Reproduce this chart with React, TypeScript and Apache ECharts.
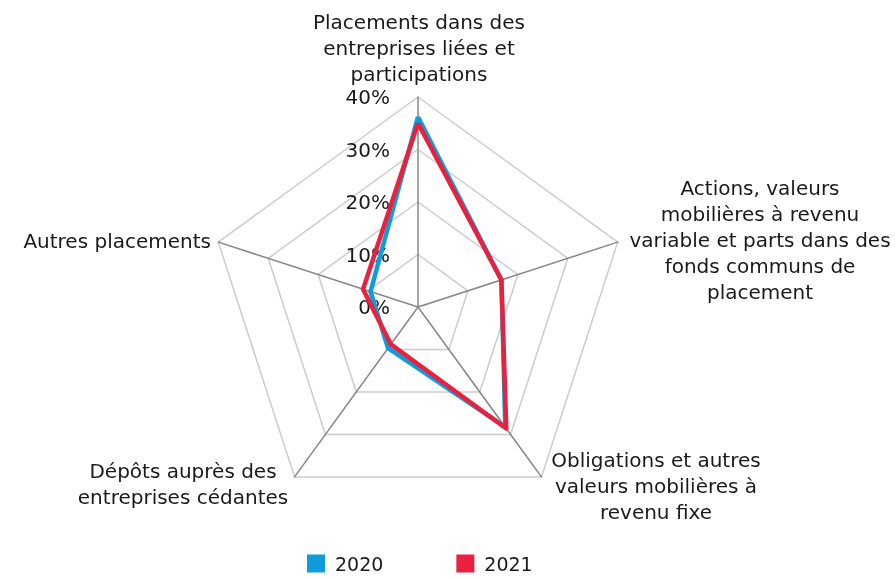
import React, { useEffect, useRef } from "react";
import * as echarts from "echarts";

// Indicators in the reference's clockwise order, starting at the top
const indicatorNames = [
  "Placements dans des\nentreprises liées et\nparticipations",
  "Actions, valeurs\nmobilières à revenu\nvariable et parts dans des\nfonds communs de\nplacement",
  "Obligations et autres\nvaleurs mobilières à\nrevenu fixe",
  "Dépôts auprès des\nentreprises cédantes",
  "Autres placements",
];
const seriesNames = ["2020", "2021"];
const values2020 = [36.2, 16.7, 28.3, 9.7, 9.5];
const values2021 = [35.0, 16.7, 28.6, 8.8, 11.0];
const axisMax = 40;

const FONT = "DejaVu Sans";

export default function App() {
  const ref = useRef<HTMLDivElement>(null);
  useEffect(() => {
    document.body.style.margin = "0";
    const chart = echarts.init(ref.current!, null, { renderer: "svg" });
    const cx = 418;
    const cy = 307;
    const R = 210;
    // ECharts lays indicators counter-clockwise; reorder to draw clockwise
    const order = [0, 4, 3, 2, 1];
    const namePos: [number, number, string][] = [
      [419, 48, "center"],
      [760, 240, "center"],
      [656, 486, "center"],
      [183, 484, "center"],
      [211, 241, "right"],
    ];
    chart.setOption({
      animation: false,
      legend: {
        top: 549,
        left: 302,
        itemWidth: 18,
        itemHeight: 18,
        itemGap: 73,
        icon: "rect",
        data: seriesNames,
        textStyle: {
          fontFamily: FONT,
          fontSize: 19,
          lineHeight: 18,
          color: "#1a1a1a",
          padding: [0, 0, 0, 5],
        },
      },
      radar: {
        center: [cx, cy],
        radius: R,
        startAngle: 90,
        splitNumber: 4,
        shape: "polygon",
        axisName: { show: false },
        indicator: order.map((k) => ({
          name: indicatorNames[k],
          min: 0,
          max: axisMax,
          ...(k === 0
            ? {
                axisLabel: {
                  show: true,
                  formatter: (v: number) => v + "%",
                  fontFamily: FONT,
                  fontSize: 20,
                  color: "#1a1a1a",
                  margin: 28,
                },
              }
            : {}),
        })),
        axisLabel: { show: false },
        axisLine: { lineStyle: { color: "#868686", width: 1.5 } },
        splitLine: { lineStyle: { color: "#cccccc", width: 1.5 } },
        splitArea: { show: false },
        axisTick: { show: false },
      },
      graphic: indicatorNames.map((n, i) => ({
        type: "text",
        x: namePos[i][0],
        y: namePos[i][1],
        style: {
          text: n,
          fontFamily: FONT,
          fontSize: 20,
          lineHeight: 26,
          fill: "#1a1a1a",
          align: namePos[i][2],
          verticalAlign: "middle",
        },
      })),
      series: [
        {
          type: "radar",
          symbol: "none",
          data: [
            {
              name: seriesNames[0],
              value: order.map((k) => values2020[k]),
              lineStyle: { color: "#0E9DDA", width: 4.5 },
              itemStyle: { color: "#0E9DDA" },
            },
            {
              name: seriesNames[1],
              value: order.map((k) => values2021[k]),
              lineStyle: { color: "#E8213F", width: 4.5 },
              itemStyle: { color: "#E8213F" },
            },
          ],
        },
      ],
    });
    return () => chart.dispose();
  }, []);
  return (
    <div
      ref={ref}
      style={{ position: "fixed", left: 0, top: 0, width: 895, height: 578 }}
    />
  );
}
